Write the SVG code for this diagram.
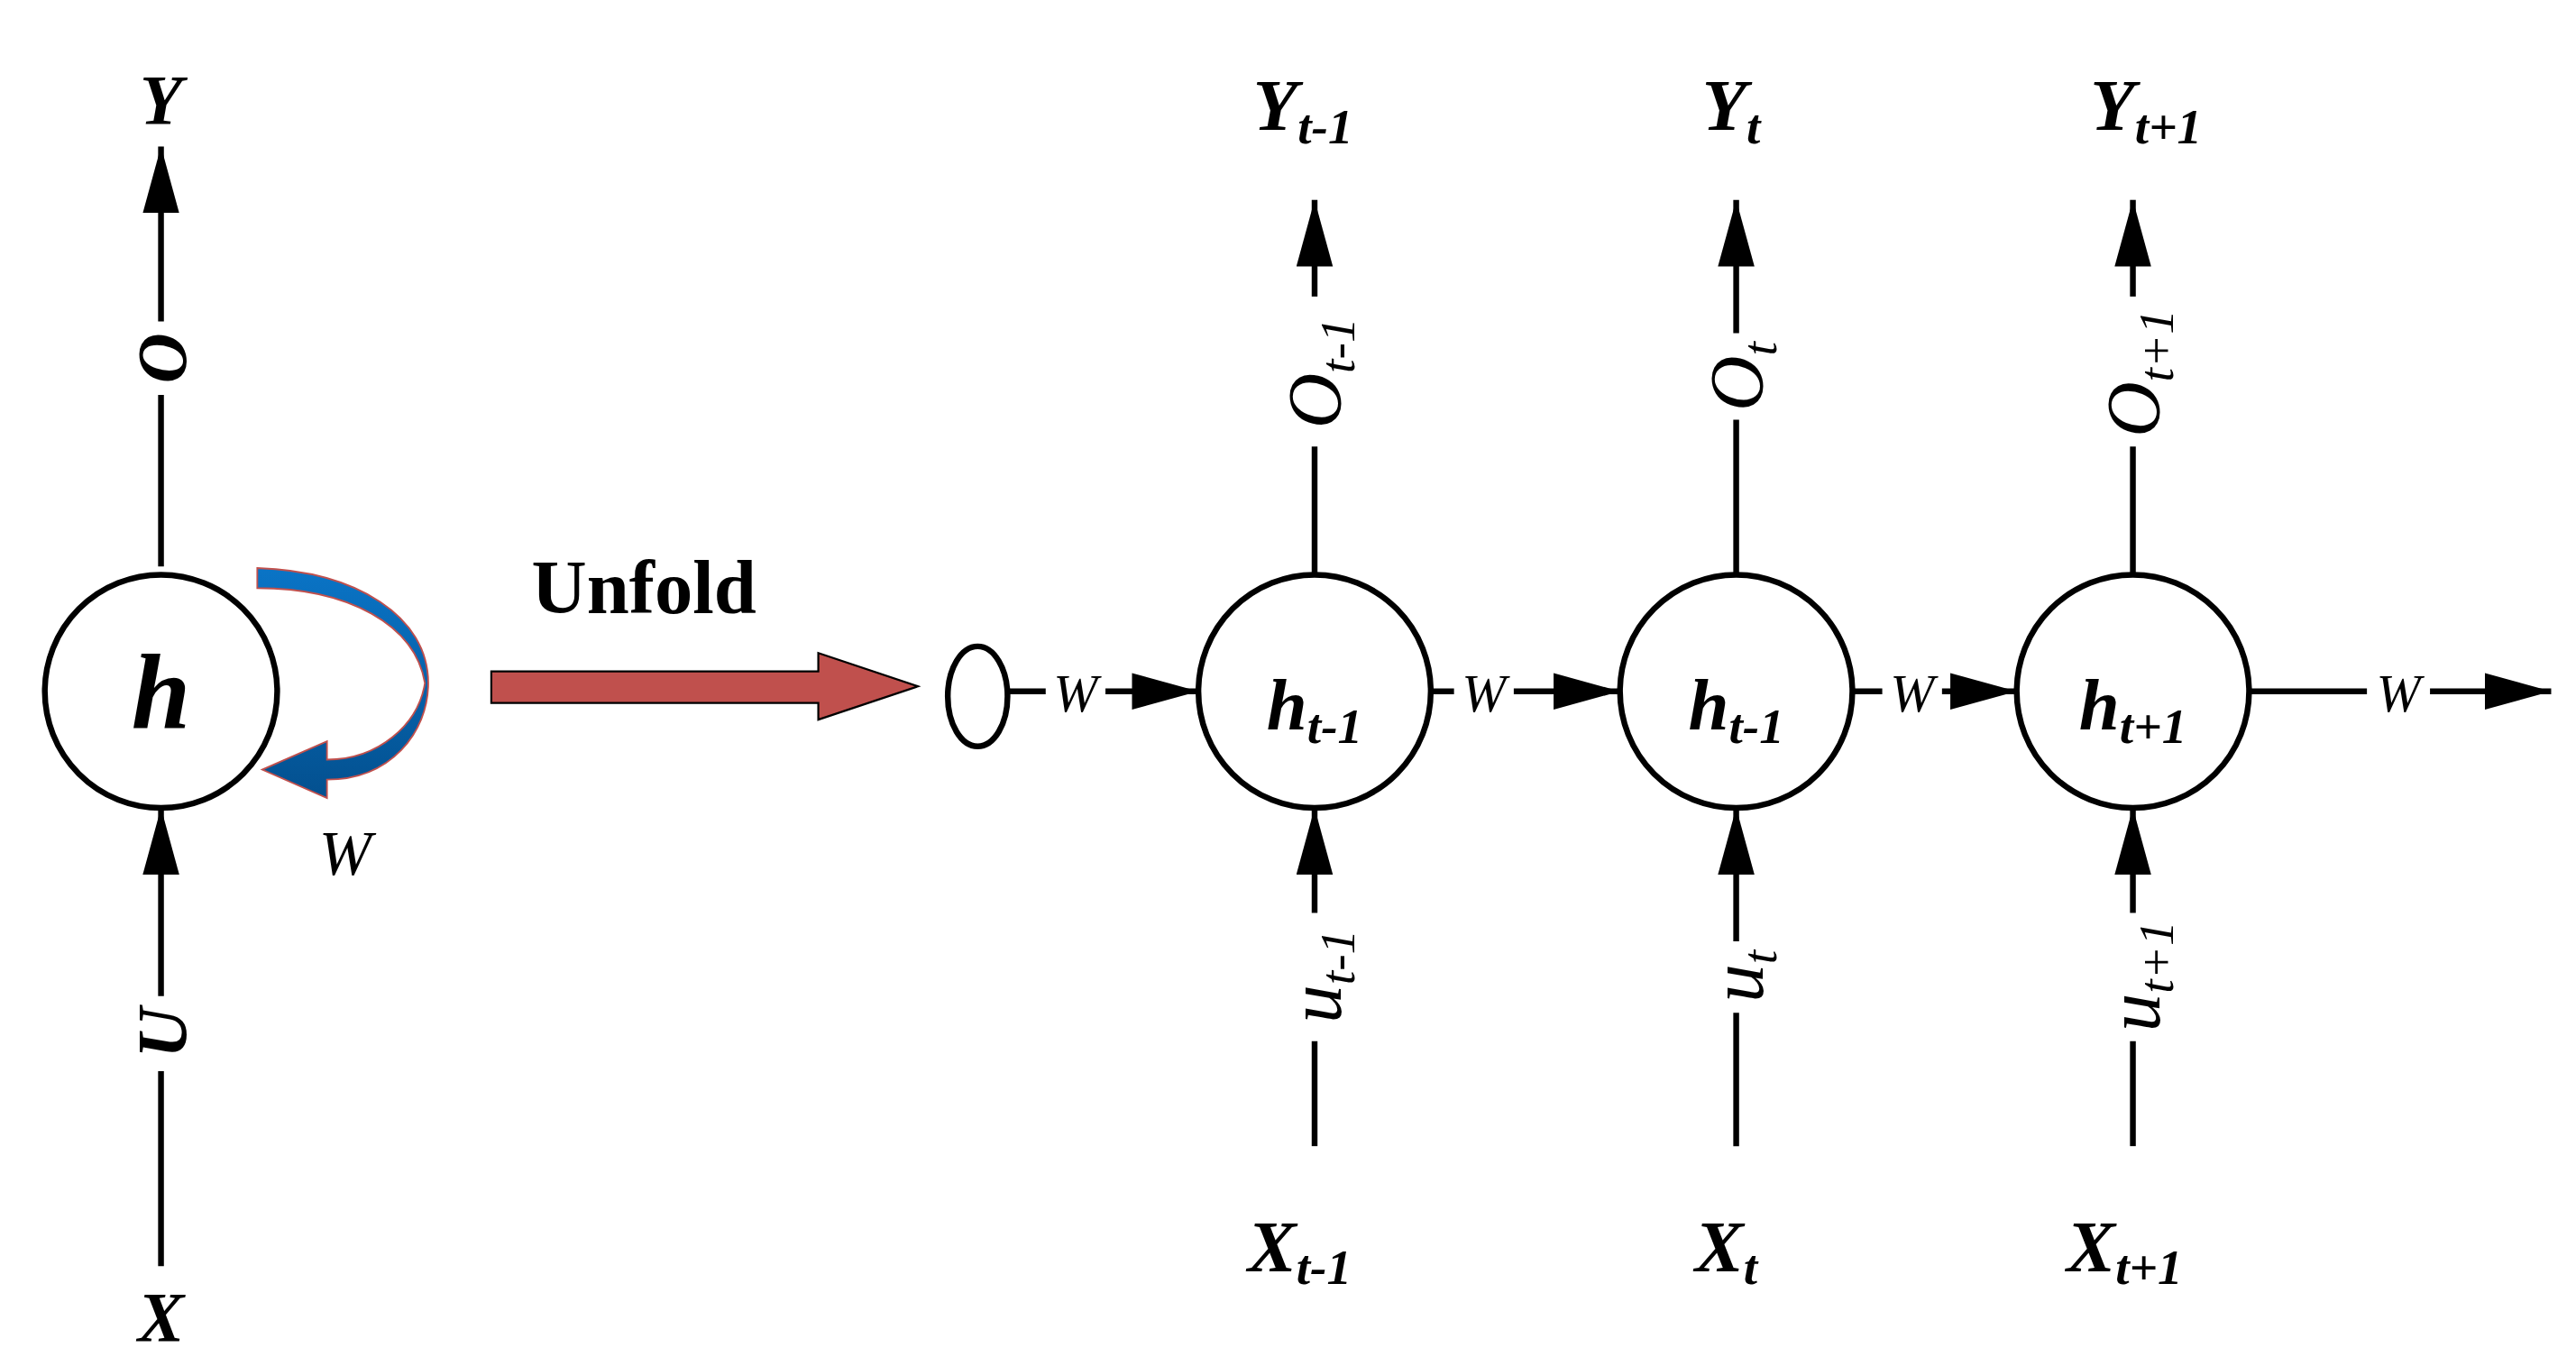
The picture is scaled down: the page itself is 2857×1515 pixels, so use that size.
<svg xmlns="http://www.w3.org/2000/svg" width="2857" height="1515" viewBox="0 0 2857 1515">
<style>
.ln{stroke:#000;stroke-width:3.5;fill:none}
.nd{stroke:#000;stroke-width:3.5;fill:#fff}
.t{font-family:"Liberation Serif",serif;font-style:italic;font-weight:bold;fill:#000;text-anchor:middle}
.r{font-family:"Liberation Serif",serif;font-style:italic;fill:#000;text-anchor:middle}
</style>
<defs>
<marker id="ah" markerUnits="userSpaceOnUse" markerWidth="42" markerHeight="24" refX="40" refY="11" orient="auto" viewBox="0 0 42 24">
<path d="M0,0 L40,11 L0,22 z" fill="#000"/>
</marker>
<linearGradient id="bg" x1="0" y1="0" x2="0" y2="1">
<stop offset="0" stop-color="#0a74c6"/><stop offset="1" stop-color="#03508f"/>
</linearGradient>
</defs>
<rect width="2857" height="1515" fill="#fff"/>
<g transform="scale(1.8409,1.8476)">
<g id="connectors">
<line class="ln" x1="97" y1="340" x2="97" y2="237"/>
<line class="ln" x1="97" y1="193" x2="97" y2="88" marker-end="url(#ah)"/>
<line class="ln" x1="97" y1="760" x2="97" y2="643"/>
<line class="ln" x1="97" y1="598" x2="97" y2="485" marker-end="url(#ah)"/>
<path d="M155,341 C215,343 258,370 258,410 C258,440 235,468 197,468 L197,479 L158,462 L197,445 L197,456 C228,456 252,435 256,410 C250,375 210,353 155,353 Z" fill="url(#bg)" stroke="#c0504d" stroke-width="1"/>
<path d="M296,403 L493,403 L493,392 L553,412 L493,432 L493,422 L296,422 Z" fill="#c0504d" stroke="#000" stroke-width="1.2"/>
<line class="ln" x1="607" y1="415" x2="630" y2="415"/>
<line class="ln" x1="666" y1="415" x2="722" y2="415" marker-end="url(#ah)"/>
<line class="ln" x1="862" y1="415" x2="876" y2="415"/>
<line class="ln" x1="912" y1="415" x2="976" y2="415" marker-end="url(#ah)"/>
<line class="ln" x1="1116" y1="415" x2="1134" y2="415"/>
<line class="ln" x1="1170" y1="415" x2="1215" y2="415" marker-end="url(#ah)"/>
<line class="ln" x1="1355" y1="415" x2="1426" y2="415"/>
<line class="ln" x1="1464" y1="415" x2="1537" y2="415" marker-end="url(#ah)"/>
<line class="ln" x1="792" y1="345" x2="792" y2="268"/>
<line class="ln" x1="792" y1="178" x2="792" y2="120" marker-end="url(#ah)"/>
<line class="ln" x1="1046" y1="345" x2="1046" y2="252"/>
<line class="ln" x1="1046" y1="200" x2="1046" y2="120" marker-end="url(#ah)"/>
<line class="ln" x1="1285" y1="345" x2="1285" y2="268"/>
<line class="ln" x1="1285" y1="178" x2="1285" y2="120" marker-end="url(#ah)"/>
<line class="ln" x1="792" y1="688" x2="792" y2="625"/>
<line class="ln" x1="792" y1="548" x2="792" y2="485" marker-end="url(#ah)"/>
<line class="ln" x1="1046" y1="688" x2="1046" y2="608"/>
<line class="ln" x1="1046" y1="565" x2="1046" y2="485" marker-end="url(#ah)"/>
<line class="ln" x1="1285" y1="688" x2="1285" y2="625"/>
<line class="ln" x1="1285" y1="548" x2="1285" y2="485" marker-end="url(#ah)"/>
</g>
<g id="node-h"><circle class="nd" cx="97" cy="415" r="70"/><text class="t" x="97" y="437" font-size="64">h</text></g>
<g id="node-h0"><ellipse class="nd" cx="589" cy="418" rx="18" ry="30"/></g>
<g id="node-h1"><circle class="nd" cx="792" cy="415" r="70"/><text class="t" x="792" y="438" font-size="44">h<tspan font-size="30" dy="8">t-1</tspan></text></g>
<g id="node-h2"><circle class="nd" cx="1046" cy="415" r="70"/><text class="t" x="1046" y="438" font-size="44">h<tspan font-size="30" dy="8">t-1</tspan></text></g>
<g id="node-h3"><circle class="nd" cx="1285" cy="415" r="70"/><text class="t" x="1285" y="438" font-size="44">h<tspan font-size="30" dy="8">t+1</tspan></text></g>
<g id="labels">
<text class="t" x="97" y="74" font-size="42">Y</text>
<text class="t" x="97" y="805" font-size="42">X</text>
<text class="t" transform="translate(112,215) rotate(-90)" font-size="42">O</text>
<text class="t" transform="translate(112,620) rotate(-90)" font-size="42">U</text>
<text class="r" x="208" y="525" font-size="38">W</text>
<text font-family="Liberation Serif,serif" font-weight="bold" font-size="46" x="388" y="368" text-anchor="middle">Unfold</text>
<text class="r" x="648" y="427" font-size="32">W</text>
<text class="r" x="894" y="427" font-size="32">W</text>
<text class="r" x="1152" y="427" font-size="32">W</text>
<text class="r" x="1445" y="427" font-size="32">W</text>
<text class="t" x="785" y="78" font-size="44">Y<tspan font-size="30" dy="8">t-1</tspan></text>
<text class="t" x="1043" y="78" font-size="44">Y<tspan font-size="30" dy="8">t</tspan></text>
<text class="t" x="1293" y="78" font-size="44">Y<tspan font-size="30" dy="8">t+1</tspan></text>
<text class="t" x="783" y="763" font-size="44">X<tspan font-size="30" dy="8">t-1</tspan></text>
<text class="t" x="1040" y="763" font-size="44">X<tspan font-size="30" dy="8">t</tspan></text>
<text class="t" x="1280" y="763" font-size="44">X<tspan font-size="30" dy="8">t+1</tspan></text>
<text class="r" transform="translate(808,224) rotate(-90)" font-size="46">O<tspan font-size="30" dy="8">t-1</tspan></text>
<text class="r" transform="translate(1062,226) rotate(-90)" font-size="46">O<tspan font-size="30" dy="8">t</tspan></text>
<text class="r" transform="translate(1301,224) rotate(-90)" font-size="46">O<tspan font-size="30" dy="8">t+1</tspan></text>
<text class="r" transform="translate(808,586) rotate(-90)" font-size="46">u<tspan font-size="30" dy="8">t-1</tspan></text>
<text class="r" transform="translate(1062,586) rotate(-90)" font-size="46">u<tspan font-size="30" dy="8">t</tspan></text>
<text class="r" transform="translate(1301,586) rotate(-90)" font-size="46">u<tspan font-size="30" dy="8">t+1</tspan></text>
</g>
</g>
</svg>
